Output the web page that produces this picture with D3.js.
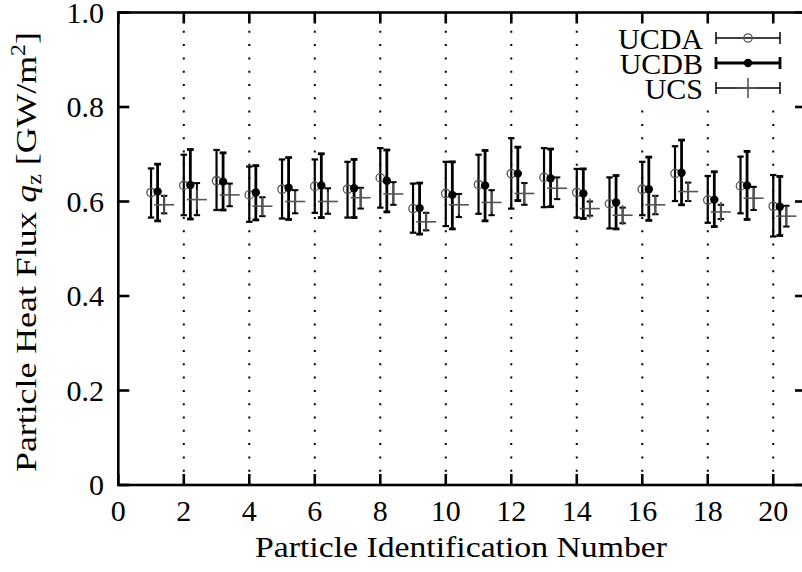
<!DOCTYPE html>
<html><head><meta charset="utf-8">
<script src="https://cdn.jsdelivr.net/npm/d3@7"></script>
<style>
html,body{margin:0;padding:0;background:#fff;}
text{font-family:"Liberation Serif","Times New Roman",serif;fill:#000;}
</style></head>
<body><svg id="c" width="802" height="572"></svg>
<script>
const particles = [1,2,3,4,5,6,7,8,9,10,11,12,13,14,15,16,17,18,19,20];
const ucdaVal = [0.619,0.634,0.644,0.614,0.626,0.632,0.626,0.650,0.585,0.617,0.636,0.659,0.651,0.619,0.595,0.626,0.659,0.603,0.633,0.590];
const ucdaLo  = [0.566,0.571,0.582,0.557,0.564,0.576,0.566,0.587,0.534,0.548,0.574,0.585,0.588,0.566,0.543,0.571,0.601,0.555,0.575,0.526];
const ucdaHi  = [0.670,0.699,0.709,0.674,0.689,0.689,0.684,0.713,0.638,0.684,0.699,0.734,0.713,0.669,0.651,0.684,0.717,0.654,0.695,0.656];
const ucdbVal = [0.621,0.635,0.642,0.619,0.629,0.634,0.628,0.644,0.586,0.614,0.634,0.659,0.649,0.617,0.598,0.626,0.661,0.604,0.634,0.589];
const ucdbLo  = [0.559,0.563,0.582,0.561,0.562,0.566,0.566,0.578,0.531,0.542,0.559,0.602,0.589,0.564,0.542,0.560,0.593,0.547,0.562,0.528];
const ucdbHi  = [0.679,0.710,0.703,0.676,0.693,0.701,0.689,0.709,0.639,0.684,0.708,0.715,0.711,0.669,0.655,0.694,0.730,0.663,0.706,0.653];
const ucsVal  = [0.593,0.604,0.614,0.590,0.600,0.600,0.608,0.616,0.557,0.593,0.598,0.617,0.628,0.585,0.571,0.593,0.621,0.578,0.607,0.569];
const ucsLo   = [0.575,0.571,0.590,0.569,0.575,0.574,0.585,0.593,0.539,0.567,0.571,0.593,0.605,0.570,0.554,0.573,0.601,0.563,0.582,0.547];
const ucsHi   = [0.612,0.639,0.638,0.609,0.624,0.628,0.629,0.641,0.576,0.616,0.624,0.639,0.651,0.600,0.587,0.612,0.640,0.593,0.631,0.591];
const xTicks = [0,2,4,6,8,10,12,14,16,18,20];
const yTicks = [0,0.2,0.4,0.6,0.8,1.0];
const seriesNames = ["UCDA","UCDB","UCS"];
const xOffsets = [0,0.2,0.4];

const svg = d3.select("#c");
const x = d3.scaleLinear().domain([0,21]).range([118.3,806]);
const y = d3.scaleLinear().domain([0,1]).range([485,12.5]);
const X0=x(0), X1=x(21), Y0=y(0), Y1=y(1);
const FS = 30;

// dotted grid
svg.append("g").selectAll("line").data(xTicks.filter(d=>d>0)).join("line")
  .attr("x1",d=>x(d)).attr("x2",d=>x(d)).attr("y1",Y0).attr("y2",Y1)
  .attr("stroke","#000").attr("stroke-width",2).attr("stroke-dasharray","2,11.3");

// series
const series = [
  {name:seriesNames[0], v:ucdaVal, lo:ucdaLo, hi:ucdaHi, off:xOffsets[0], w:2.2, cap:3.2},
  {name:seriesNames[1], v:ucdbVal, lo:ucdbLo, hi:ucdbHi, off:xOffsets[1], w:2.8, cap:3.4},
  {name:seriesNames[2], v:ucsVal,  lo:ucsLo,  hi:ucsHi,  off:xOffsets[2], w:2.0, cap:3.2}
];
function drawBar(g, cx, ylo, yhi, w, cap){
  g.append("line").attr("x1",cx).attr("x2",cx).attr("y1",ylo).attr("y2",yhi).attr("stroke","#000").attr("stroke-width",w);
  g.append("line").attr("x1",cx-cap).attr("x2",cx+cap).attr("y1",ylo).attr("y2",ylo).attr("stroke","#000").attr("stroke-width",w);
  g.append("line").attr("x1",cx-cap).attr("x2",cx+cap).attr("y1",yhi).attr("y2",yhi).attr("stroke","#000").attr("stroke-width",w);
}
function drawMarker(g, name, cx, cy){
  if(name==="UCDA"){
    g.append("circle").attr("cx",cx).attr("cy",cy).attr("r",4.2).attr("fill","none").attr("stroke","#555").attr("stroke-width",1.3);
  } else if(name==="UCDB"){
    g.append("circle").attr("cx",cx).attr("cy",cy).attr("r",4.2).attr("fill","#000");
  } else {
    g.append("line").attr("x1",cx-10).attr("x2",cx+10).attr("y1",cy).attr("y2",cy).attr("stroke","#555").attr("stroke-width",1.6);
    g.append("line").attr("x1",cx).attr("x2",cx).attr("y1",cy-10).attr("y2",cy+10).attr("stroke","#555").attr("stroke-width",1.6);
  }
}
const gData = svg.append("g");
series.forEach(s=>{
  particles.forEach((p,i)=>{
    const cx = x(p+s.off);
    drawBar(gData, cx, y(s.lo[i]), y(s.hi[i]), s.w, s.cap);
    drawMarker(gData, s.name, cx, y(s.v[i]));
  });
});

// legend
const lg = svg.append("g");
lg.append("rect").attr("x",606).attr("y",Y1+2).attr("width",196).attr("height",86).attr("fill","#fff");
const legY = [38,63,88];
const legW = [1.5,2.8,1.5];
series.forEach((s,i)=>{
  const ly = legY[i];
  lg.append("text").attr("x",703).attr("y",ly).attr("dy","0.35em").attr("text-anchor","end").attr("font-size",FS).text(s.name);
  lg.append("line").attr("x1",716).attr("x2",780).attr("y1",ly).attr("y2",ly).attr("stroke","#000").attr("stroke-width",legW[i]);
  lg.append("line").attr("x1",716).attr("x2",716).attr("y1",ly-6).attr("y2",ly+6).attr("stroke","#000").attr("stroke-width",legW[i]);
  lg.append("line").attr("x1",780).attr("x2",780).attr("y1",ly-6).attr("y2",ly+6).attr("stroke","#000").attr("stroke-width",legW[i]);
  drawMarker(lg, s.name, 748, ly);
});

// axes frame and ticks
const ax = svg.append("g").attr("stroke","#000").attr("stroke-width",2.6);
ax.append("rect").attr("x",X0).attr("y",Y1).attr("width",X1-X0).attr("height",Y0-Y1).attr("fill","none");
xTicks.forEach(d=>{
  ax.append("line").attr("x1",x(d)).attr("x2",x(d)).attr("y1",Y0).attr("y2",Y0-11);
  ax.append("line").attr("x1",x(d)).attr("x2",x(d)).attr("y1",Y1).attr("y2",Y1+11);
});
yTicks.forEach(d=>{
  ax.append("line").attr("x1",X0).attr("x2",X0+11).attr("y1",y(d)).attr("y2",y(d));
  ax.append("line").attr("x1",X1).attr("x2",X1-11).attr("y1",y(d)).attr("y2",y(d));
});

// tick labels
svg.append("g").selectAll("text").data(xTicks).join("text")
  .attr("x",d=>x(d)).attr("y",521).attr("text-anchor","middle").attr("font-size",FS).text(d=>d);
svg.append("g").selectAll("text").data(yTicks).join("text")
  .attr("x",104).attr("y",d=>y(d)).attr("dy","0.34em").attr("text-anchor","end").attr("font-size",FS)
  .text(d=> d===0 ? "0" : d3.format(".1f")(d));

// axis titles
svg.append("text").attr("x",461).attr("y",557).attr("text-anchor","middle").attr("font-size",FS)
  .attr("textLength",412).attr("lengthAdjust","spacingAndGlyphs").text("Particle Identification Number");
const yt = svg.append("text").attr("transform","translate(36,252) rotate(-90)").attr("text-anchor","middle").attr("font-size",FS)
  .attr("textLength",440).attr("lengthAdjust","spacingAndGlyphs");
yt.append("tspan").text("Particle Heat Flux ");
yt.append("tspan").attr("font-style","italic").text("q");
yt.append("tspan").attr("font-size",20).attr("dy",5).text("z");
yt.append("tspan").attr("dy",-5).text(" [GW/m");
yt.append("tspan").attr("font-size",20).attr("dy",-11).text("2");
yt.append("tspan").attr("dy",11).text("]");
</script></body></html>
